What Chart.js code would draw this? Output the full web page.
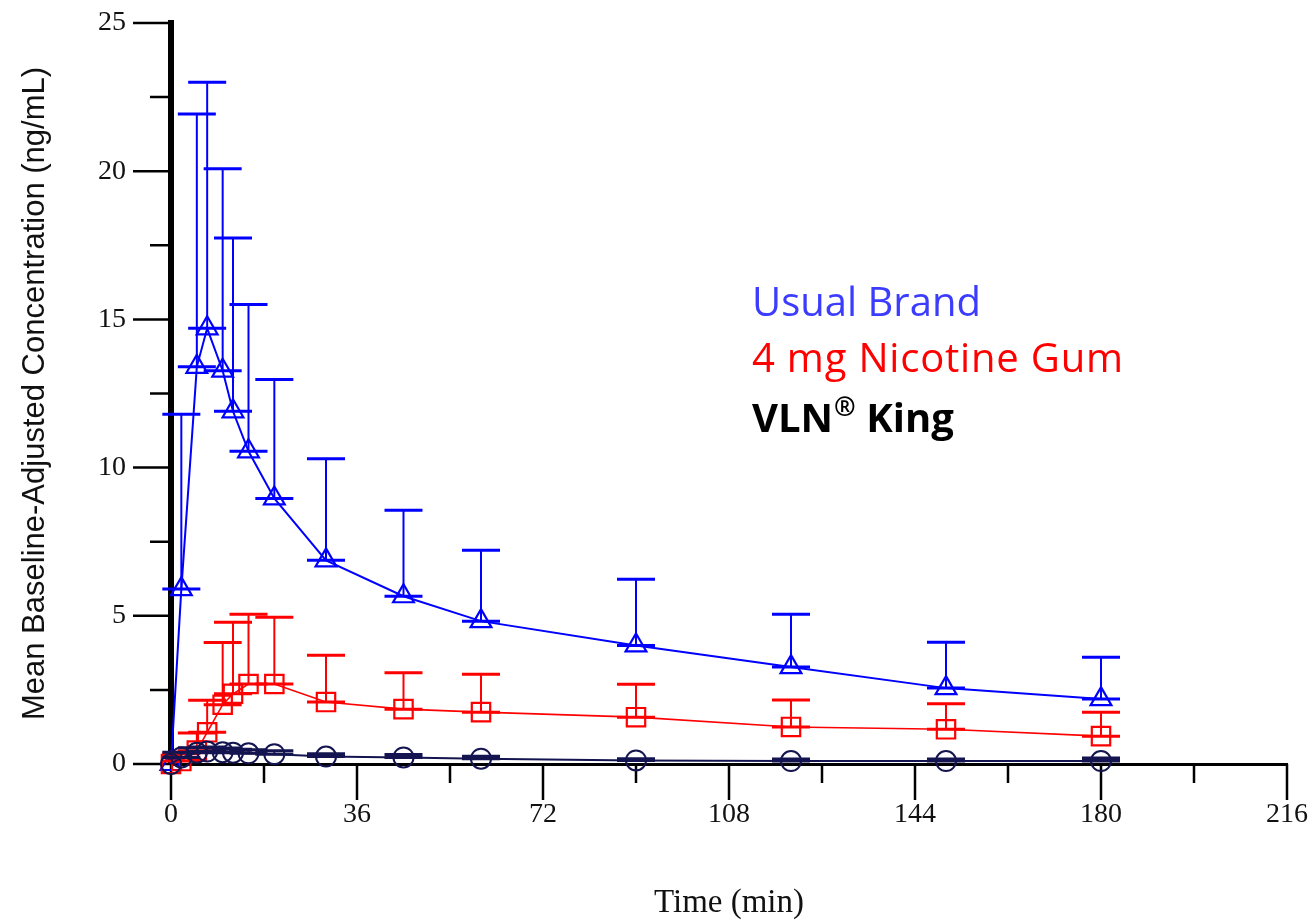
<!DOCTYPE html>
<html>
<head>
<meta charset="utf-8">
<title>Mean Baseline-Adjusted Concentration</title>
<script src="https://cdn.jsdelivr.net/npm/chart.js@4.4.1/dist/chart.umd.min.js"></script>
<style>
  html, body { margin: 0; padding: 0; background: #fff; }
  #chart-wrap { width: 1315px; height: 924px; position: relative; }
</style>
</head>
<body>
<div id="chart-wrap"><canvas id="pk_chart"></canvas></div>
<script>
'use strict';

// sampling times, minutes
const times = [0, 2, 5, 7, 10, 12, 15, 20, 30, 45, 60, 90, 120, 150, 180];

// mean and mean + SD, ng/mL
const usualBrandMean = [0, 5.9, 13.4, 14.7, 13.27, 11.9, 10.55, 8.96, 6.87, 5.66, 4.82, 4.0, 3.27, 2.56, 2.19];
const usualBrandUpper = [0, 11.8, 21.93, 23.0, 20.08, 17.75, 15.5, 12.97, 10.3, 8.56, 7.21, 6.23, 5.05, 4.11, 3.6];
const gumMean = [0, 0.1, 0.45, 1.07, 2.0, 2.37, 2.7, 2.7, 2.09, 1.85, 1.75, 1.58, 1.25, 1.17, 0.94];
const gumUpper = [0, 0.35, 1.05, 2.15, 4.1, 4.78, 5.05, 4.95, 3.67, 3.08, 3.03, 2.69, 2.16, 2.03, 1.75];
const vlnMean = [0, 0.22, 0.38, 0.42, 0.4, 0.38, 0.36, 0.33, 0.25, 0.22, 0.18, 0.12, 0.1, 0.1, 0.1];
const vlnUpper = [0, 0.4, 0.55, 0.57, 0.54, 0.5, 0.48, 0.45, 0.35, 0.32, 0.26, 0.18, 0.17, 0.17, 0.2];

const xTickLabels = [0, 36, 72, 108, 144, 180, 216];
const xMinorTicks = [18, 54, 90, 126, 162, 198];
const yTickLabels = [0, 5, 10, 15, 20, 25];
const yMinorTicks = [2.5, 7.5, 12.5, 17.5, 22.5];

const seriesNames = ['Usual Brand', '4 mg Nicotine Gum', 'VLN', '\u00AE', ' King'];

const toPoints = (ys) => times.map((t, i) => ({ x: t, y: ys[i] }));

// upper error bars: stem from mean to mean+SD, caps at both ends
const errorBars = {
    id: 'errorBars',
    afterDatasetDraw(chart, args) {
        const ds = chart.data.datasets[args.index];
        if (!ds.upper) return;
        const { ctx, scales: { x, y } } = chart;
        const half = 19;
        ctx.save();
        ctx.strokeStyle = ds.borderColor;
        ds.data.forEach((p, i) => {
            const up = ds.upper[i];
            if (up <= p.y) return;
            const px = x.getPixelForValue(p.x);
            const py = y.getPixelForValue(p.y);
            const pu = y.getPixelForValue(up);
            ctx.lineWidth = 2;
            ctx.beginPath();
            ctx.moveTo(px, py);
            ctx.lineTo(px, pu);
            ctx.stroke();
            ctx.lineWidth = 3;
            ctx.beginPath();
            ctx.moveTo(px - half, pu);
            ctx.lineTo(px + half, pu);
            ctx.moveTo(px - half, py);
            ctx.lineTo(px + half, py);
            ctx.stroke();
        });
        ctx.restore();
    },
};

// major and minor tick marks on both axes
const axisTicks = {
    id: 'axisTicks',
    beforeDatasetsDraw(chart) {
        const { ctx, scales: { x, y }, chartArea } = chart;
        ctx.save();
        ctx.strokeStyle = '#000';
        ctx.lineWidth = 2.5;
        ctx.beginPath();
        yTickLabels.forEach(v => {
            const py = y.getPixelForValue(v);
            ctx.moveTo(chartArea.left - 38, py);
            ctx.lineTo(chartArea.left, py);
        });
        yMinorTicks.forEach(v => {
            const py = y.getPixelForValue(v);
            ctx.moveTo(chartArea.left - 21, py);
            ctx.lineTo(chartArea.left, py);
        });
        xTickLabels.forEach(v => {
            const px = x.getPixelForValue(v);
            ctx.moveTo(px, chartArea.bottom);
            ctx.lineTo(px, chartArea.bottom + 36);
        });
        xMinorTicks.forEach(v => {
            const px = x.getPixelForValue(v);
            ctx.moveTo(px, chartArea.bottom);
            ctx.lineTo(px, chartArea.bottom + 19);
        });
        ctx.stroke();
        ctx.restore();
    },
};

// coloured series names inside the plot
const seriesText = {
    id: 'seriesText',
    afterDraw(chart) {
        const ctx = chart.ctx;
        const left = 752;
        ctx.save();
        ctx.textAlign = 'left';
        ctx.textBaseline = 'alphabetic';
        ctx.font = '40px "Open Sans"';
        ctx.fillStyle = '#3c3cff';
        ctx.fillText(seriesNames[0], left, 316);
        ctx.fillStyle = '#ff0000';
        ctx.letterSpacing = '0.8px';
        ctx.fillText(seriesNames[1], left, 372);
        ctx.letterSpacing = '0px';
        ctx.fillStyle = '#000';
        ctx.font = 'bold 40px "Open Sans"';
        ctx.fillText(seriesNames[2], left, 432);
        let w = ctx.measureText(seriesNames[2]).width;
        ctx.font = 'bold 26px "Open Sans"';
        ctx.fillText(seriesNames[3], left + w + 1, 416);
        w += ctx.measureText(seriesNames[3]).width + 1;
        ctx.font = 'bold 40px "Open Sans"';
        ctx.fillText(seriesNames[4], left + w, 432);
        ctx.restore();
    },
};

const tickFont = { family: 'Liberation Serif', size: 28 };
// the label offset comes from an invisible tick length, so the layout
// does not reserve the tick padding around the plot area
const hiddenTick = 'rgba(0,0,0,0)';

const ctx = document.getElementById('pk_chart').getContext('2d');
const pkChart = new Chart(ctx, {
    type: 'line',
    data: {
        datasets: [
            {
                label: seriesNames[2] + seriesNames[3] + seriesNames[4],
                data: toPoints(vlnMean),
                upper: vlnUpper,
                borderColor: '#141450',
                borderWidth: 2,
                pointStyle: 'circle',
                pointRadius: 10,
                pointBorderWidth: 2,
                pointBackgroundColor: 'rgba(0,0,0,0)',
                clip: false,
                order: 1,
            },
            {
                label: seriesNames[1],
                data: toPoints(gumMean),
                upper: gumUpper,
                borderColor: '#ff0000',
                borderWidth: 1.6,
                pointStyle: 'rect',
                pointRadius: 13,
                pointBorderWidth: 2.2,
                pointBackgroundColor: 'rgba(0,0,0,0)',
                clip: false,
                order: 2,
            },
            {
                label: seriesNames[0],
                data: toPoints(usualBrandMean),
                upper: usualBrandUpper,
                borderColor: '#0000ff',
                borderWidth: 2,
                pointStyle: 'triangle',
                pointRadius: 12,
                pointBorderWidth: 2.2,
                pointBackgroundColor: 'rgba(0,0,0,0)',
                clip: false,
                order: 3,
            },
        ],
    },
    options: {
        responsive: true,
        maintainAspectRatio: false,
        animation: false,
        devicePixelRatio: 1,
        layout: { padding: { top: 23, right: 28, left: 0, bottom: 0 } },
        elements: { line: { tension: 0, fill: false } },
        plugins: {
            legend: { display: false },
            tooltip: { enabled: false },
        },
        scales: {
            x: {
                type: 'linear',
                min: 0,
                max: 216,
                afterFit: (scale) => { scale.height = 160; },
                afterBuildTicks: (scale) => { scale.ticks = xTickLabels.map(v => ({ value: v })); },
                grid: { drawOnChartArea: false, drawTicks: true, tickLength: 34, tickColor: hiddenTick },
                border: { display: true, color: '#000', width: 3 },
                ticks: { padding: 0, font: tickFont, color: '#111', maxRotation: 0, autoSkip: false },
                title: {
                    display: true,
                    text: 'Time (min)',
                    font: { family: 'Liberation Serif', size: 33 },
                    color: '#111',
                    padding: { top: 0, bottom: 1 },
                },
            },
            y: {
                type: 'linear',
                min: 0,
                max: 25,
                afterFit: (scale) => { scale.width = 171; },
                afterBuildTicks: (scale) => { scale.ticks = yTickLabels.map(v => ({ value: v })); },
                grid: { drawOnChartArea: false, drawTicks: true, tickLength: 45, tickColor: hiddenTick },
                border: { display: true, color: '#000', width: 6 },
                ticks: { padding: 0, font: tickFont, color: '#111' },
                title: {
                    display: true,
                    text: 'Mean Baseline-Adjusted Concentration (ng/mL)',
                    font: { family: 'Liberation Sans', size: 31 },
                    color: '#111',
                    padding: { top: 17, bottom: 0 },
                },
            },
        },
    },
    plugins: [axisTicks, errorBars, seriesText],
});
</script>
</body>
</html>
